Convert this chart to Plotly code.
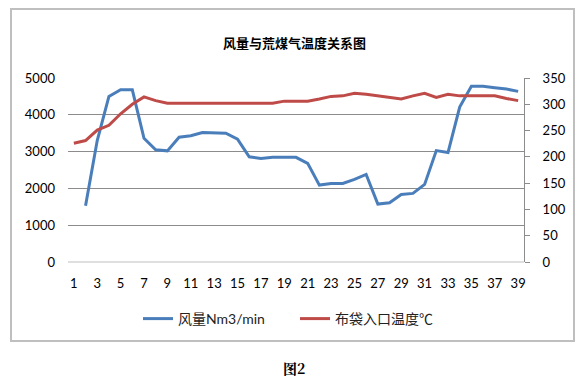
import plotly.graph_objects as go

categories = list(range(1, 40))
airflow = [None, 1530, 3300, 4500, 4680, 4680, 3360, 3050, 3020, 3390,
           3430, 3520, 3520, 3500, 3340, 2860, 2810, 2845, 2845, 2845,
           2680, 2090, 2130, 2136, 2245, 2380, 1573, 1609, 1836, 1864,
           2109, 3027, 2973, 4209, 4773, 4773, 4736, 4700, 4636]
temperature = [226, 231, 251, 260, 282, 300, 314, 307, 302, 302,
               302, 302, 302, 302, 302, 302, 302, 302, 306, 306,
               306, 310, 315, 316, 321, 319, 316, 313, 310, 316,
               321, 313, 319, 316, 316, 316, 316, 311, 307]
x_ticks = list(range(1, 40, 2))
left_ticks = [0, 1000, 2000, 3000, 4000, 5000]
right_ticks = [0, 50, 100, 150, 200, 250, 300, 350]

W, H = 587, 379
L, R, T, B = 68, 524, 78, 262
pw, ph = R - L, B - T

def px(x):
    return (x - L) / pw

def py(y):
    return (B - y) / ph

font_family = "Lato, 'Noto Sans CJK SC', sans-serif"

fig = go.Figure()
fig.add_trace(go.Scatter(x=categories, y=airflow, name="风量Nm3/min", mode="lines",
                         line=dict(color="#4A7EBB", width=3), connectgaps=False))
fig.add_trace(go.Scatter(x=categories, y=temperature, name="布袋入口温度℃", mode="lines",
                         line=dict(color="#BE4B48", width=3), yaxis="y2"))

fig.update_layout(
    width=W, height=H,
    margin=dict(l=L, r=W - R, t=T, b=H - B),
    paper_bgcolor="white", plot_bgcolor="white",
    font=dict(family=font_family, size=13, color="#000000"),
    showlegend=True,
    legend=dict(orientation="h", x=px(138), xanchor="left", y=py(319), yanchor="middle",
                font=dict(size=14, color="#222222"), tracegroupgap=0,
                entrywidth=112, entrywidthmode="pixels",
                bgcolor="rgba(0,0,0,0)"),
    xaxis=dict(range=[0.5, 39.5], tickmode="array", tickvals=x_ticks,
               ticktext=[str(v) for v in x_ticks], showgrid=False, zeroline=False,
               showline=False, ticks="", ticklabelstandoff=12,
               tickfont=dict(size=13)),
    yaxis=dict(range=[0, 5000], tickmode="array", tickvals=left_ticks,
               showgrid=True, gridcolor="#8c8c8c", gridwidth=1, zeroline=False,
               showline=False, ticks="", ticklabelstandoff=12,
               tickfont=dict(size=13)),
    yaxis2=dict(range=[0, 350], tickmode="array", tickvals=right_ticks,
                overlaying="y", side="right", showgrid=False, zeroline=False,
                showline=True, linecolor="#8c8c8c", linewidth=1,
                ticks="outside", ticklen=5, tickcolor="#8c8c8c",
                ticklabelstandoff=10, tickfont=dict(size=13)),
    shapes=[dict(type="rect", xref="paper", yref="paper",
                 x0=px(11), x1=px(574), y0=py(341), y1=py(9),
                 line=dict(color="#BFBFBF", width=2), fillcolor="rgba(0,0,0,0)",
                 layer="below"),
            dict(type="line", xref="paper", yref="paper",
                 x0=0, x1=1, y0=0, y1=0, line=dict(color="#BFBFBF", width=1))],
    annotations=[
        dict(text="<b>风量与荒煤气温度关系图</b>", xref="paper", yref="paper",
             x=px(294), y=py(42), xanchor="center", yanchor="middle", showarrow=False,
             font=dict(family="'Noto Sans CJK SC', sans-serif", size=13, color="#000000")),
        dict(text="<b>图2</b>", xref="paper", yref="paper",
             x=px(294), y=py(368), xanchor="center", yanchor="middle", showarrow=False,
             font=dict(family="'Noto Serif CJK SC', 'Noto Sans CJK SC', serif", size=14, color="#000000")),
    ],
)

fig.write_html("out.html", config={"displayModeBar": False},
               post_script="document.body.style.margin='0';document.body.style.padding='0';")
